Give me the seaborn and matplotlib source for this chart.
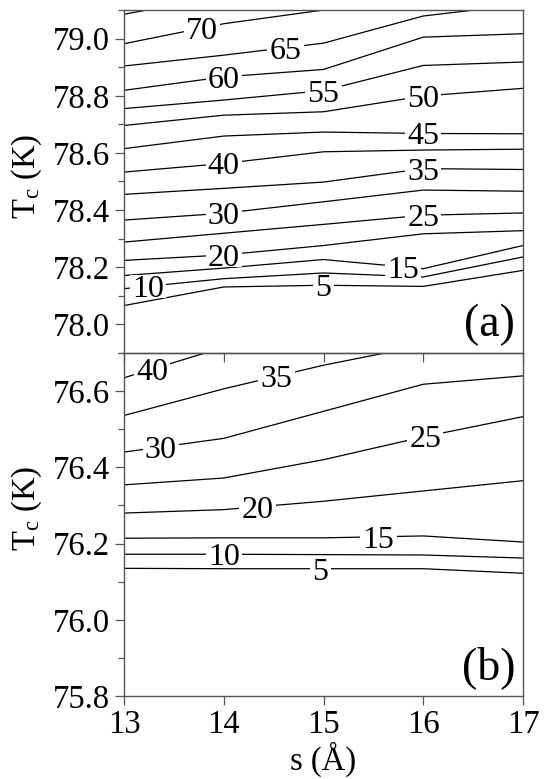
import numpy as np
import pandas as pd
import matplotlib
matplotlib.use("Agg")
import matplotlib.pyplot as plt
import seaborn as sns
from matplotlib.path import Path
from matplotlib.ticker import FixedLocator, MultipleLocator, FormatStrFormatter

# ---- data -------------------------------------------------------------
s_grid = [13, 14, 15, 16, 17]          # interlayer spacing s (Angstrom)
nan = np.nan

# panel (a): T_c (K) along each labelled level
levels_a = [75, 70, 65, 60, 55, 50, 45, 40, 35, 30, 25, 20, 15, 10, 5]
tc_a = [
    [79.085, 79.150, nan, nan, nan],
    [78.982, 79.052, 79.100, nan, nan],
    [78.904, 78.942, 78.984, 79.079, 79.120],
    [78.819, 78.866, 78.892, 79.005, 79.017],
    [78.755, 78.785, 78.818, 78.906, 78.918],
    [78.696, 78.732, 78.744, 78.799, 78.826],
    [78.615, 78.659, 78.673, 78.668, 78.667],
    [78.533, 78.563, 78.604, 78.610, 78.613],
    [78.455, 78.476, 78.498, 78.545, 78.542],
    [78.365, 78.389, 78.429, 78.470, 78.466],
    [78.288, 78.319, 78.350, 78.382, 78.390],
    [78.224, 78.243, 78.276, 78.317, 78.328],
    [78.171, 78.197, 78.227, 78.195, 78.276],
    [78.125, 78.160, 78.180, 78.166, 78.236],
    [78.066, 78.131, 78.137, 78.133, 78.189],
]
# where along s each level carries its inline label (None = unlabelled)
label_s_a = [None, 13.78, 14.62, 14.0, 15.0, 16.0, 16.0, 14.0, 16.0,
             14.0, 16.0, 14.0, 15.8, 13.24, 15.0]

# panel (b)
levels_b = [40, 35, 30, 25, 20, 15, 10, 5]
tc_b = [
    [76.635, 76.715, nan, nan, nan],
    [76.536, 76.606, 76.668, 76.720, nan],
    [76.440, 76.476, 76.547, 76.618, 76.640],
    [76.354, 76.372, 76.420, 76.480, 76.533],
    [76.280, 76.289, 76.311, 76.338, 76.365],
    [76.214, 76.215, 76.215, 76.220, 76.204],
    [76.172, 76.172, 76.171, 76.170, 76.162],
    [76.135, 76.134, 76.134, 76.134, 76.122],
]
label_s_b = [13.28, 14.53, 13.37, 16.02, 14.34, 15.55, 14.0, 14.97]

xticks = [13, 14, 15, 16, 17]
yticks_a = [78.0, 78.2, 78.4, 78.6, 78.8, 79.0]
yticks_b = [75.8, 76.0, 76.2, 76.4, 76.6]

# ---- style ------------------------------------------------------------
sns.set_style("ticks")
plt.rcParams["font.family"] = ["Liberation Serif", "DejaVu Serif"]
plt.rcParams["mathtext.fontset"] = "custom"
plt.rcParams["mathtext.rm"] = "Liberation Serif"
plt.rcParams["mathtext.it"] = "Liberation Serif:italic"
plt.rcParams["text.color"] = "black"
plt.rcParams["axes.labelcolor"] = "black"
plt.rcParams["xtick.labelcolor"] = "black"
plt.rcParams["ytick.labelcolor"] = "black"

FS = 23.5        # tick labels and axis titles
FS_LEV = 23      # inline level labels
SPINE = "#555555"


def digit_box(x0, y0, width, height, mutation_size):
    """White patch hugging the digits only (no ascent/descent bands)."""
    pad = 0.07 * mutation_size
    bottom = y0 + 0.19 * mutation_size
    top = y0 + 0.217 * mutation_size + 0.71 * mutation_size
    return Path([(x0 - pad, bottom), (x0 + width + pad, bottom),
                 (x0 + width + pad, top), (x0 - pad, top),
                 (x0 - pad, bottom)], closed=True)


def long_form(levels, rows):
    recs = []
    for lev, row in zip(levels, rows):
        for s, t in zip(s_grid, row):
            if not np.isnan(t):
                recs.append({"s": s, "Tc": t, "level": lev})
    return pd.DataFrame(recs)


def draw_panel(ax, levels, rows, label_s, ylim, yticks, tag):
    df = long_form(levels, rows)
    sns.lineplot(data=df, x="s", y="Tc", units="level", estimator=None,
                 color="black", linewidth=0.9, sort=True, ax=ax, legend=False)
    for lev, row, sl in zip(levels, rows, label_s):
        if sl is None:
            continue
        s_arr = np.array(s_grid, dtype=float)
        t_arr = np.array(row, dtype=float)
        ok = ~np.isnan(t_arr)
        y = np.interp(sl, s_arr[ok], t_arr[ok])
        ax.text(sl, y, str(lev), ha="center", va="center_baseline",
                fontsize=FS_LEV, color="black", zorder=5,
                bbox=dict(boxstyle=digit_box, fc="white", ec="none"))
    ax.set_xlim(13, 17)
    ax.set_ylim(*ylim)
    ax.xaxis.set_major_locator(FixedLocator(xticks))
    ax.yaxis.set_major_locator(FixedLocator(yticks))
    ax.yaxis.set_minor_locator(MultipleLocator(0.1))
    ax.yaxis.set_major_formatter(FormatStrFormatter("%.1f"))
    ax.tick_params(axis="both", which="major", direction="out", length=6.5,
                   width=0.9, color=SPINE, labelsize=FS, labelcolor="black")
    ax.tick_params(axis="y", which="major", pad=3.5)
    ax.tick_params(axis="x", which="major", pad=3.5)
    ax.tick_params(axis="y", which="minor", direction="out", length=4,
                   width=0.9, color=SPINE)
    ax.tick_params(axis="x", which="minor", bottom=False)
    for sp in ax.spines.values():
        sp.set_color(SPINE)
        sp.set_linewidth(1.0)
    ax.set_ylabel(r"T$_\mathrm{c}$ (K)", fontsize=FS, color="black")
    ax.text(0.98, 0.05, tag, transform=ax.transAxes, ha="right",
            va="baseline", fontsize=33, color="black")


fig, (ax1, ax2) = plt.subplots(2, 1, figsize=(5.51, 7.79), dpi=100)
fig.subplots_adjust(left=124 / 551, right=523 / 551, top=1 - 10 / 779,
                    bottom=1 - 696 / 779, hspace=0)

draw_panel(ax1, levels_a, tc_a, label_s_a, (77.9, 79.1), yticks_a, "(a)")
draw_panel(ax2, levels_b, tc_b, label_s_b, (75.8, 76.7), yticks_b, "(b)")

ax1.set_xlabel("")
ax1.tick_params(axis="x", labelbottom=False)
ax2.patch.set_visible(False)
ax2.set_xlabel("s (Å)", fontsize=FS, labelpad=1, color="black")

ax1.yaxis.set_label_coords(-0.2, 0.515)
ax2.yaxis.set_label_coords(-0.2, 0.547)

fig.savefig("out.png", dpi=100)
